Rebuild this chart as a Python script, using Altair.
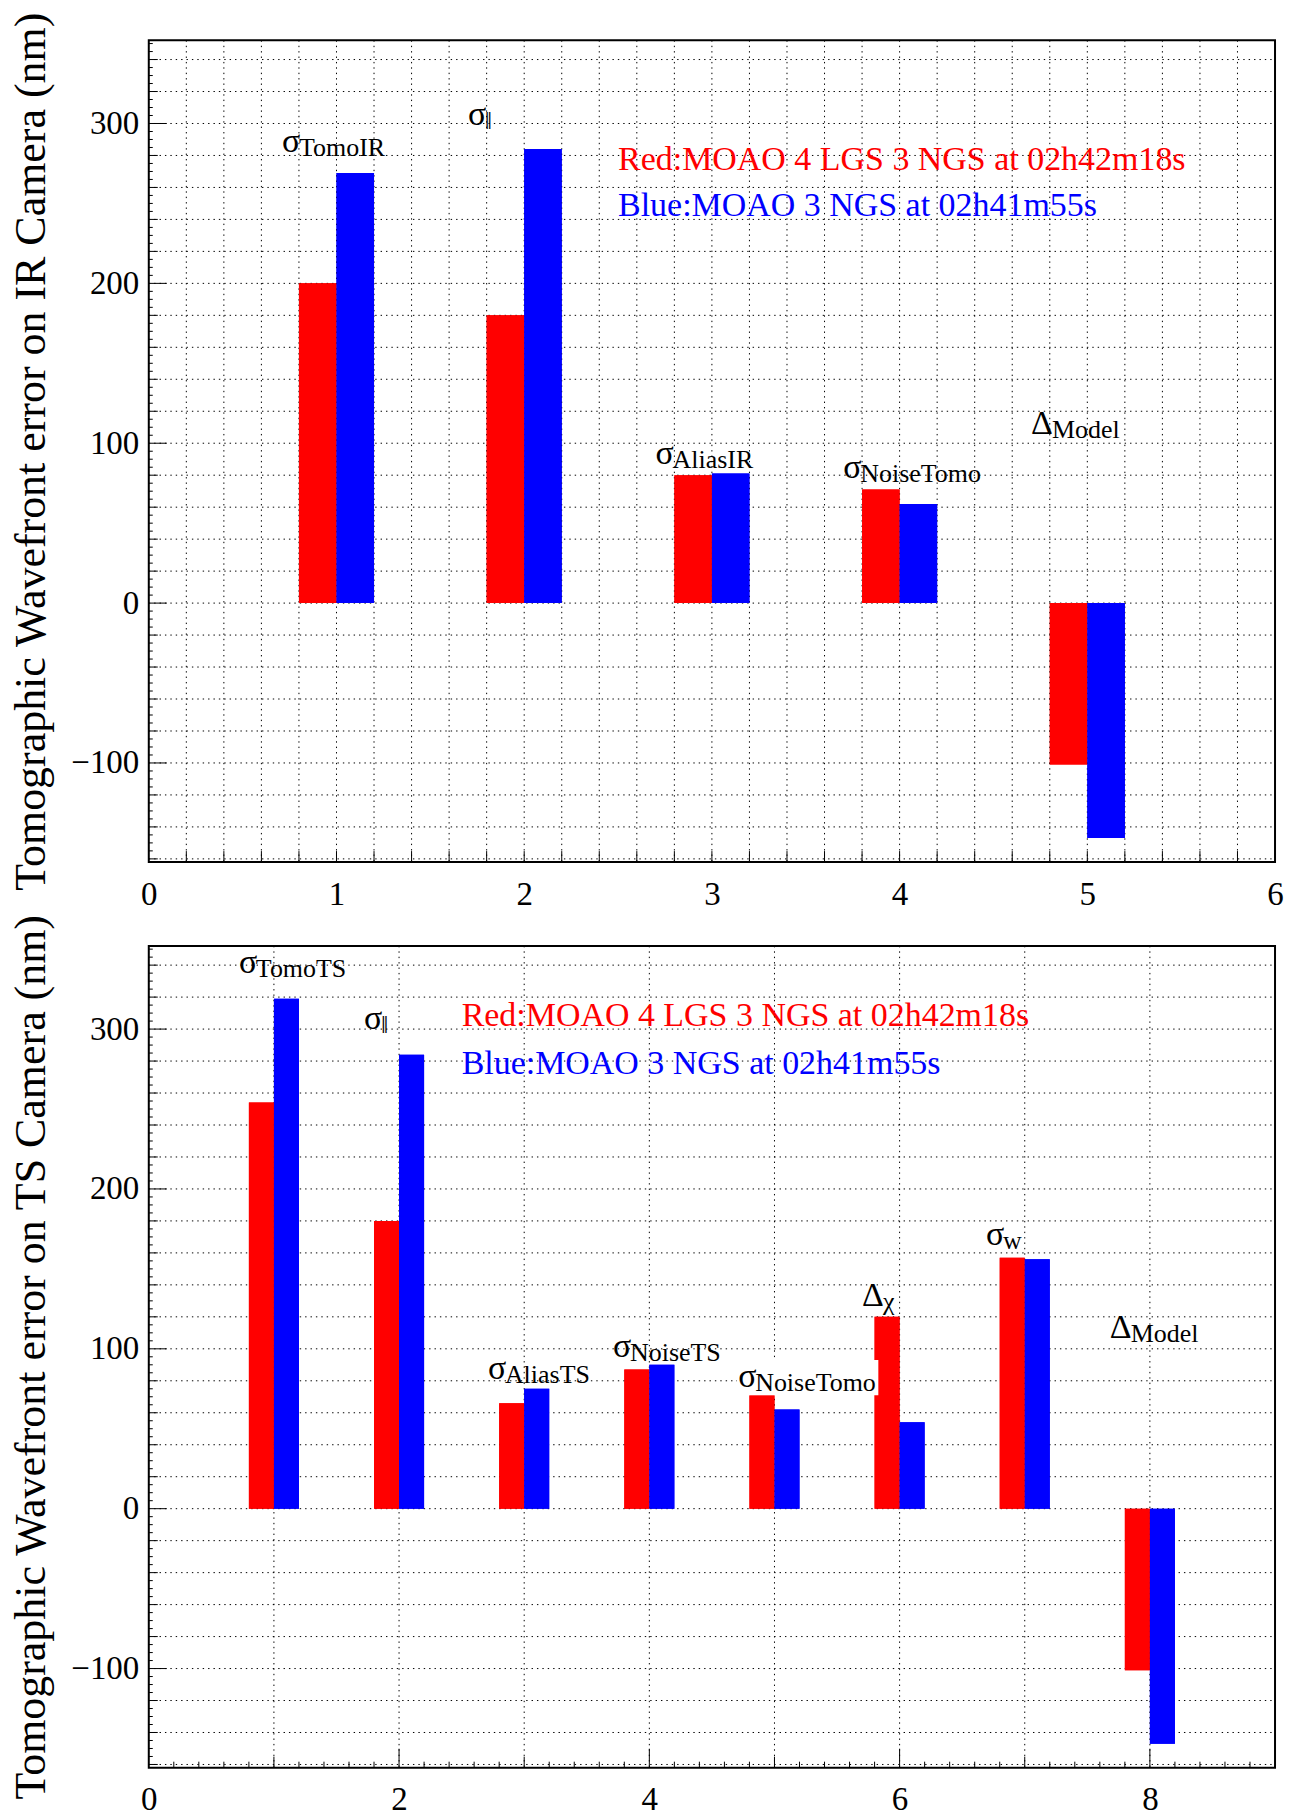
import altair as alt
import numpy as np
import pandas as pd

# ---------------- data ----------------
series_names = ["Red", "Blue"]
series_colors = ["#ff0000", "#0000ff"]

top_pos = [1, 2, 3, 4, 5]
top_red = [200, 180, 80, 71, -101]
top_blue = [269, 284, 81, 62, -147]
top_label_x = [0.71, 1.70, 2.70, 3.70, 4.70]
top_label_y = [282, 299, 87, 78, 106]
top_label_main = ["σ", "σ", "σ", "σ", "Δ"]
top_label_sub = ["TomoIR", "‖", "AliasIR", "NoiseTomo", "Model"]
top_box_x0, top_box_x1, top_box_y0, top_box_y1 = [], [], [], []

bot_pos = [1, 2, 3, 4, 5, 6, 7, 8]
bot_red = [254, 180, 66, 87, 71, 120, 157, -101]
bot_blue = [319, 284, 75, 90, 62, 54, 156, -147]
bot_label_x = [0.72, 1.72, 2.71, 3.71, 4.71, 5.70, 6.69, 7.68]
bot_label_y = [335, 300, 81, 95, 76, 127, 165, 107]
bot_label_main = ["σ", "σ", "σ", "σ", "σ", "Δ", "σ", "Δ"]
bot_label_sub = ["TomoTS", "‖", "AliasTS", "NoiseTS", "NoiseTomo", "χ", "w", "Model"]
# white background box of the σNoiseTomo label (it clips the Δχ bar)
bot_box_x0 = [4.70]
bot_box_x1 = [5.83]
bot_box_y0 = [71]
bot_box_y1 = [93]

legend_text = ["Red:MOAO 4 LGS 3 NGS at 02h42m18s", "Blue:MOAO 3 NGS at 02h41m55s"]
top_legend_x = [2.5, 2.5]
top_legend_y = [271, 242]
bot_legend_x = [2.5, 2.5]
bot_legend_y = [302, 272]

top_xdomain = [0, 6]
bot_xdomain = [0, 9]
ydomain = [-162, 352]
y_label_values = [-100, 0, 100, 200, 300]
top_x_label_values = [0, 1, 2, 3, 4, 5, 6]
bot_x_label_values = [0, 2, 4, 6, 8]

top_ytitle = "Tomographic Wavefront error on IR Camera (nm)"
bot_ytitle = "Tomographic Wavefront error on TS Camera (nm)"

FONT = "Liberation Serif"
W, H = 1128, 823


def rvals(start, stop, step):
    return [round(v, 6) for v in np.arange(start, stop + step / 2, step)]


def panel(pos, red, blue, lx, ly, lmain, lsub, legx, legy, xdomain,
          xlabels, vgrid, xtick_sets, ytitle, boxes):
    xs = alt.Scale(domain=xdomain, nice=False, zero=False)
    ys = alt.Scale(domain=ydomain, nice=False, zero=False)
    xax = alt.Axis(
        values=xlabels, title=None, grid=False, ticks=False, domain=False,
        labelFont=FONT, labelFontSize=33, labelColor="black", labelPadding=16,
        labelFlush=False, labelOverlap=False, format="d")
    yax = alt.Axis(
        values=y_label_values, title=ytitle, grid=False, ticks=False, domain=False,
        labelFont=FONT, labelFontSize=33, labelColor="black", labelPadding=10,
        labelOverlap=False,
        labelExpr="datum.value < 0 ? '\u2212' + abs(datum.value) : datum.label",
        titleFont=FONT, titleFontSize=44, titleFontWeight="normal", titleColor="black",
        titleBaseline="alphabetic", minExtent=80, maxExtent=80, titlePadding=24)

    def X(f):
        return alt.X(f, scale=xs, axis=xax)

    def Y(f):
        return alt.Y(f, scale=ys, axis=yax)

    def hrules(values, length=None, dash=None):
        df = pd.DataFrame({"v": values})
        kw = dict(color="black", strokeWidth=1)
        if dash:
            kw["strokeDash"] = dash
        x2 = alt.value(W) if length is None else alt.value(length)
        return alt.Chart(df).mark_rule(**kw).encode(y=Y("v:Q"), x=alt.value(0), x2=x2)

    def vrules(values, length=None, dash=None):
        df = pd.DataFrame({"v": values})
        kw = dict(color="black", strokeWidth=1)
        if dash:
            kw["strokeDash"] = dash
        y = alt.value(0) if length is None else alt.value(H - length)
        return alt.Chart(df).mark_rule(**kw).encode(x=X("v:Q"), y=y, y2=alt.value(H))

    n = len(pos)
    bars_df = pd.DataFrame({
        "x0": [p - 0.2 for p in pos] + list(pos),
        "x1": list(pos) + [p + 0.2 for p in pos],
        "val": list(red) + list(blue),
        "base": [0] * (2 * n),
        "series": ["Red"] * n + ["Blue"] * n,
    })
    color = alt.Color("series:N", scale=alt.Scale(domain=series_names, range=series_colors), legend=None)

    bars = alt.Chart(bars_df).mark_rect().encode(
        x=X("x0:Q"), x2="x1:Q", y=Y("val:Q"), y2="base:Q", color=color)

    lab_df = pd.DataFrame({"x": lx, "y": ly, "main": lmain, "sub": lsub})
    base_lab = alt.Chart(lab_df).encode(x=X("x:Q"), y=Y("y:Q"))
    main_txt = base_lab.mark_text(align="left", baseline="alphabetic", font=FONT,
                                  fontSize=34, color="black").encode(text="main:N")
    sub_sigma = base_lab.transform_filter(alt.datum.main == "σ").mark_text(
        align="left", baseline="alphabetic", font=FONT, fontSize=26, color="black",
        dx=17, dy=4).encode(text="sub:N")
    sub_delta = base_lab.transform_filter(alt.datum.main == "Δ").mark_text(
        align="left", baseline="alphabetic", font=FONT, fontSize=26, color="black",
        dx=21, dy=4).encode(text="sub:N")

    leg_df = pd.DataFrame({"x": legx, "y": legy, "t": legend_text, "series": series_names})
    leg = alt.Chart(leg_df).mark_text(align="left", baseline="alphabetic", font=FONT,
                                      fontSize=34).encode(
        x=X("x:Q"), y=Y("y:Q"), text="t:N", color=color)

    dots = [1.4, 4]
    layers = [
        bars,
        hrules(rvals(-160, 340, 20), dash=dots),
        vrules(vgrid, dash=dots),
        bars,
    ]
    bx0, bx1, by0, by1 = boxes
    if bx0:
        box_df = pd.DataFrame({"x0": bx0, "x1": bx1, "y0": by0, "y1": by1})
        layers.append(alt.Chart(box_df).mark_rect(color="white").encode(
            x=X("x0:Q"), x2="x1:Q", y=Y("y0:Q"), y2="y1:Q"))
    layers += [main_txt, sub_sigma, sub_delta, leg]

    yt_mid = [v for v in rvals(-160, 340, 20) if v % 100 != 0]
    yt_minor = [v for v in rvals(-160, 350, 5) if v % 20 != 0]
    layers += [
        hrules(y_label_values, length=18),
        hrules(yt_mid, length=9),
        hrules(yt_minor, length=4),
    ]
    for vals, ln in xtick_sets:
        layers.append(vrules(vals, length=ln))

    return alt.layer(*layers).properties(width=W, height=H)


top = panel(top_pos, top_red, top_blue, top_label_x, top_label_y, top_label_main,
            top_label_sub, top_legend_x, top_legend_y, top_xdomain, top_x_label_values,
            rvals(0.2, 5.8, 0.2),
            [(rvals(0.2, 5.8, 0.2), 11)], top_ytitle,
            (top_box_x0, top_box_x1, top_box_y0, top_box_y1))

bot_all = rvals(0.2, 8.8, 0.2)
bot_even = [2, 4, 6, 8]
bot_odd = [1, 3, 5, 7]
bot_minor = [v for v in bot_all if abs(v - round(v)) > 1e-6]
bot = panel(bot_pos, bot_red, bot_blue, bot_label_x, bot_label_y, bot_label_main,
            bot_label_sub, bot_legend_x, bot_legend_y, bot_xdomain, bot_x_label_values,
            [1, 2, 3, 4, 5, 6, 7, 8],
            [(bot_even, 19), (bot_odd, 11), (bot_minor, 6)], bot_ytitle,
            (bot_box_x0, bot_box_x1, bot_box_y0, bot_box_y1))

chart = alt.vconcat(top, bot, spacing=0).properties(
    padding={"left": 1, "top": 1, "right": 5, "bottom": 0}
).configure_view(stroke="black", strokeWidth=2)

chart.save("out.html", embed_options={"renderer": "svg", "actions": False})
